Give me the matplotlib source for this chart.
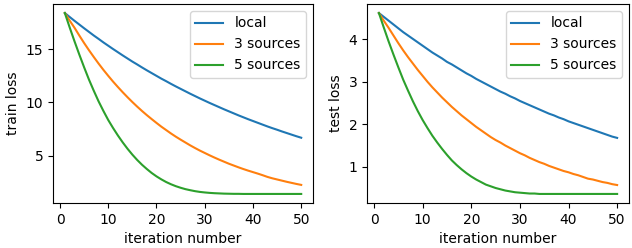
import matplotlib
matplotlib.use("Agg")
import matplotlib.pyplot as plt

iterations = list(range(1, 51))

train_local = [18.40, 18.03, 17.67, 17.32, 16.97, 16.63, 16.29, 15.97, 15.64, 15.33,
               15.02, 14.72, 14.42, 14.13, 13.84, 13.57, 13.29, 13.02, 12.76, 12.50,
               12.24, 12.00, 11.75, 11.51, 11.28, 11.05, 10.82, 10.60, 10.38, 10.17,
               9.96, 9.76, 9.56, 9.36, 9.17, 8.98, 8.79, 8.61, 8.43, 8.26,
               8.09, 7.92, 7.75, 7.59, 7.44, 7.28, 7.13, 6.98, 6.83, 6.69]
train_3src = [18.40, 17.69, 17.02, 16.29, 15.58, 14.91, 14.27, 13.65, 13.06, 12.50,
              11.96, 11.45, 10.96, 10.49, 10.04, 9.61, 9.20, 8.81, 8.44, 8.08,
              7.73, 7.41, 7.09, 6.79, 6.51, 6.24, 5.97, 5.72, 5.48, 5.26,
              5.04, 4.83, 4.63, 4.44, 4.25, 4.08, 3.91, 3.75, 3.60, 3.46,
              3.32, 3.17, 3.01, 2.88, 2.77, 2.66, 2.55, 2.45, 2.35, 2.26]
train_5src = [18.40, 17.05, 15.75, 14.50, 13.30, 12.15, 11.10, 10.10, 9.20, 8.35,
              7.60, 6.90, 6.25, 5.65, 5.10, 4.60, 4.15, 3.75, 3.38, 3.06,
              2.78, 2.53, 2.32, 2.14, 1.99, 1.86, 1.76, 1.67, 1.60, 1.55,
              1.51, 1.48, 1.46, 1.44, 1.43, 1.42, 1.42, 1.41, 1.41, 1.41,
              1.41, 1.41, 1.41, 1.41, 1.41, 1.41, 1.41, 1.41, 1.41, 1.41]

test_local = [4.62, 4.53, 4.44, 4.35, 4.26, 4.17, 4.09, 4.01, 3.93, 3.85,
              3.77, 3.69, 3.62, 3.55, 3.47, 3.41, 3.34, 3.27, 3.20, 3.14,
              3.07, 3.01, 2.95, 2.89, 2.83, 2.77, 2.72, 2.66, 2.61, 2.55,
              2.50, 2.45, 2.40, 2.35, 2.30, 2.25, 2.21, 2.16, 2.12, 2.07,
              2.03, 1.99, 1.95, 1.91, 1.87, 1.83, 1.79, 1.75, 1.71, 1.68]
test_3src = [4.62, 4.44, 4.27, 4.09, 3.91, 3.74, 3.58, 3.43, 3.28, 3.14,
             3.00, 2.87, 2.75, 2.63, 2.52, 2.41, 2.31, 2.21, 2.12, 2.03,
             1.94, 1.86, 1.78, 1.70, 1.63, 1.57, 1.50, 1.44, 1.38, 1.32,
             1.27, 1.21, 1.16, 1.11, 1.07, 1.02, 0.98, 0.94, 0.90, 0.87,
             0.83, 0.80, 0.76, 0.72, 0.70, 0.67, 0.64, 0.62, 0.59, 0.57]
test_5src = [4.62, 4.28, 3.95, 3.64, 3.34, 3.05, 2.79, 2.54, 2.31, 2.10,
             1.91, 1.73, 1.57, 1.42, 1.28, 1.15, 1.04, 0.94, 0.85, 0.77,
             0.70, 0.64, 0.58, 0.54, 0.50, 0.47, 0.44, 0.42, 0.40, 0.39,
             0.38, 0.37, 0.37, 0.36, 0.36, 0.36, 0.36, 0.36, 0.36, 0.36,
             0.36, 0.36, 0.36, 0.36, 0.36, 0.36, 0.36, 0.36, 0.36, 0.36]

labels = ["local", "3 sources", "5 sources"]
colors = ["#1f77b4", "#ff7f0e", "#2ca02c"]

plt.rcParams["font.family"] = ["DejaVu Sans"]
plt.rcParams["font.size"] = 10

fig = plt.figure(figsize=(6.32, 2.48), dpi=100)
ax1 = fig.add_axes([0.0839, 0.1815, 0.4114, 0.8024])
ax2 = fig.add_axes([0.5807, 0.1815, 0.4146, 0.8024])

for ax, series, ylabel in [
    (ax1, [train_local, train_3src, train_5src], "train loss"),
    (ax2, [test_local, test_3src, test_5src], "test loss"),
]:
    for s, lab, c in zip(series, labels, colors):
        ax.plot(iterations, s, label=lab, color=c, linewidth=1.5)
    ax.set_xlabel("iteration number")
    ax.set_ylabel(ylabel)
    ax.set_xticks([0, 10, 20, 30, 40, 50])
    ax.legend(loc="upper right")

ax1.set_yticks([5, 10, 15])
ax2.set_yticks([1, 2, 3, 4])

fig.savefig("out.png", dpi=100)
